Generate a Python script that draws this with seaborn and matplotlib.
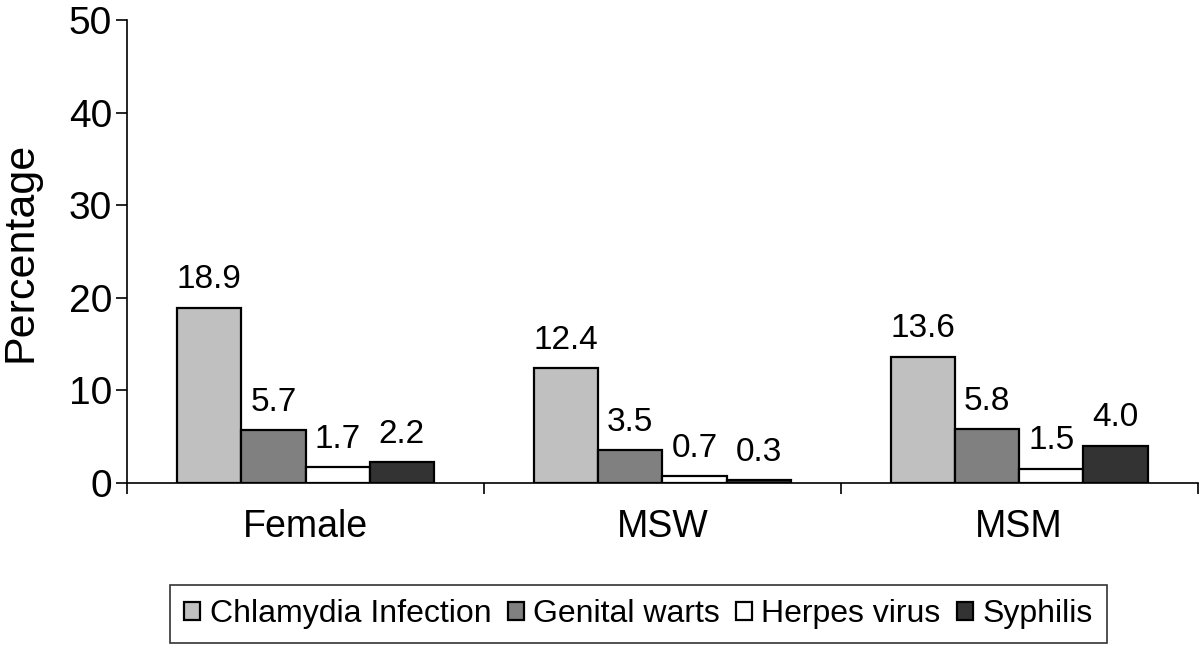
import matplotlib
matplotlib.use("Agg")
import matplotlib.pyplot as plt
import seaborn as sns
import pandas as pd

groups = ["Female", "MSW", "MSM"]
infections = ["Chlamydia Infection", "Genital warts", "Herpes virus", "Syphilis"]
chlamydia = [18.9, 12.4, 13.6]
warts = [5.7, 3.5, 5.8]
herpes = [1.7, 0.7, 1.5]
syphilis = [2.2, 0.3, 4.0]
colors = ["#c0c0c0", "#808080", "#ffffff", "#333333"]

rows = []
for name, vals in zip(infections, [chlamydia, warts, herpes, syphilis]):
    for g, v in zip(groups, vals):
        rows.append({"Group": g, "Infection": name, "Value": v})
df = pd.DataFrame(rows)

sns.set_style("white")
plt.rcParams["font.family"] = ["Liberation Sans", "DejaVu Sans"]
plt.rcParams["text.color"] = "black"
plt.rcParams["axes.labelcolor"] = "black"
plt.rcParams["xtick.color"] = "black"
plt.rcParams["ytick.color"] = "black"

fig = plt.figure(figsize=(12, 6.49), dpi=100)
ax = fig.add_axes([0.106, 0.256, 0.892, 0.713])

sns.barplot(data=df, x="Group", y="Value", hue="Infection", order=groups,
            hue_order=infections, palette=colors, width=0.72, gap=0,
            edgecolor="black", linewidth=1.6, ax=ax, legend=True, errorbar=None)

for cont in ax.containers:
    ax.bar_label(cont, fmt="%.1f", padding=9, fontsize=24, color="black")

ax.set_ylim(0, 50)
ax.set_xlim(-0.5, 2.5)
ax.set_yticks([0, 10, 20, 30, 40, 50])
ax.set_xticks([-0.5, 0.5, 1.5, 2.5], minor=False)
ax.set_xticklabels([])
ax.set_xticks([0, 1, 2], minor=True)
ax.set_xticklabels(groups, minor=True, fontsize=27)
ax.tick_params(axis="x", which="major", direction="out", length=8, width=1.2, color="black", bottom=True)
ax.tick_params(axis="x", which="minor", length=0, pad=19)
ax.tick_params(axis="y", direction="out", length=8, width=1.2, color="black", left=True, labelsize=28, pad=3)
ax.set_xlabel("")
ax.set_ylabel("Percentage", fontsize=31, labelpad=20)
for s in ["top", "right"]:
    ax.spines[s].set_visible(False)
for s in ["left", "bottom"]:
    ax.spines[s].set_color("black")
    ax.spines[s].set_linewidth(1.2)

handles, labels = ax.get_legend_handles_labels()
ax.legend_.remove()
leg = fig.legend(handles, labels, loc="center", bbox_to_anchor=(0.532, 0.054), ncol=4,
                 fontsize=23, frameon=True, fancybox=False, edgecolor="black",
                 handlelength=0.5, handleheight=0.5, handletextpad=0.3, columnspacing=0.5,
                 borderpad=0.45)
leg.get_frame().set_linewidth(1.2)

fig.savefig("out.png", dpi=100)
